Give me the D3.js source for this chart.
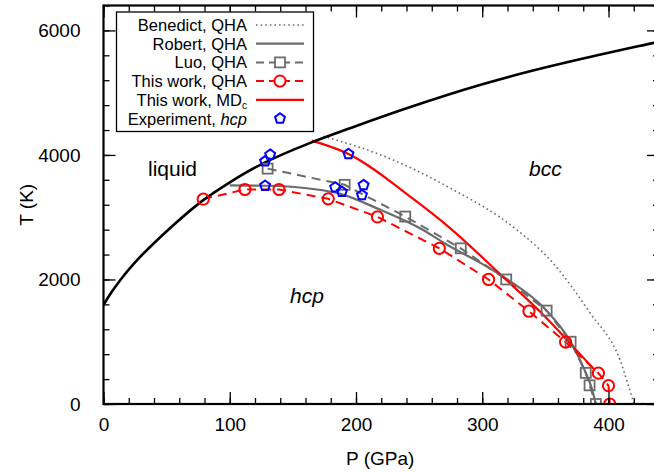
<!DOCTYPE html>
<html><head><meta charset="utf-8">
<script src="https://cdn.jsdelivr.net/npm/d3@7/dist/d3.min.js"></script>
<style>
body{margin:0;background:#fff;}
text{font-family:"Liberation Sans",Arial,Helvetica,sans-serif;fill:#000;}
</style></head>
<body><svg id="c" width="654" height="472"></svg>
<script>
// ---- data (P in GPa, T in K) ----
const meltP = [0, 5, 13, 24, 35.5, 55, 78.6, 100, 124, 165, 190, 235, 300, 361.6, 436, 440];
const meltT = [1590, 1760, 1990, 2260, 2500, 2870, 3285, 3560, 3860, 4210, 4390, 4720, 5150, 5469, 5802, 5815];

const benedictP = [174, 219, 274.5, 327.3, 353.7, 385.3, 409.1, 419.4, 420.5];
const benedictT = [4300, 4005, 3469, 2799, 2316, 1464, 708, 64, 0];

const robertP = [100, 130, 166, 187, 218, 250, 274.5, 300, 320, 350, 370, 382, 386, 390];
const robertT = [3510, 3505, 3453, 3378, 3130, 2830, 2530, 2250, 2000, 1520, 1000, 500, 300, 0];

const luoP = [130, 191, 239, 283, 319, 351, 370, 382, 385, 390];
const luoT = [3780, 3520, 3010, 2500, 2000, 1500, 1000, 500, 300, 0];

const qhaP = [79, 112, 139, 178, 217, 266, 305, 337, 366, 392, 400, 401];
const qhaT = [3290, 3445, 3445, 3295, 3005, 2500, 2000, 1490, 995, 495, 295, 0];

const mdP = [165, 194, 245.6, 274.5, 314.4, 351, 364.5, 389];
const mdT = [4230, 4016, 3290, 2826, 2080, 1378, 1086, 548];

const expP = [132, 128, 128, 183.5, 188.8, 206, 204.7, 194];
const expT = [4005, 3898, 3505, 3479, 3408, 3516, 3355, 4016];

const xTicks = [0, 100, 200, 300, 400];
const yTicks = [0, 2000, 4000, 6000];
const legendLabels = ["Benedict, QHA", "Robert, QHA", "Luo, QHA", "This work, QHA", "This work, MD", "Experiment, "];

// ---- layout ----
const svg = d3.select("#c");
const L = 103.5, R = 659, T = 5.5, B = 404;
const x = d3.scaleLinear().domain([0, 440]).range([L, R]);
const y = d3.scaleLinear().domain([0, 6400]).range([B, T]);

const zip = (a, b) => a.map((v, i) => [v, b[i]]);
const line = d3.line().x(d => x(d[0])).y(d => y(d[1]));
const smooth = d3.line().x(d => x(d[0])).y(d => y(d[1])).curve(d3.curveMonotoneX);

svg.append("clipPath").attr("id", "pc").append("rect")
  .attr("x", L).attr("y", T).attr("width", R - L).attr("height", B - T);
const g = svg.append("g").attr("clip-path", "url(#pc)");

const GRAY = "#6b6b6b", RED = "#ff0000", BLUE = "#0000ff";

// axes ticks (inward, mirrored)
const xMinor = d3.range(0, 441, 20), yMinor = d3.range(0, 6401, 400);
const ax = svg.append("g");
ax.append("g").attr("transform", `translate(0,${B})`)
  .call(d3.axisBottom(x).tickValues(xMinor).tickSize(-6).tickFormat(""));
ax.append("g").attr("transform", `translate(0,${B})`)
  .call(d3.axisBottom(x).tickValues(xTicks).tickSize(-12).tickPadding(14).tickFormat(d3.format("d")));
ax.append("g").attr("transform", `translate(0,${T})`)
  .call(d3.axisTop(x).tickValues(xMinor).tickSize(-6).tickFormat(""));
ax.append("g").attr("transform", `translate(0,${T})`)
  .call(d3.axisTop(x).tickValues(xTicks).tickSize(-12).tickFormat(""));
ax.append("g").attr("transform", `translate(${L},0)`)
  .call(d3.axisLeft(y).tickValues(yMinor).tickSize(-6).tickFormat(""));
ax.append("g").attr("transform", `translate(${L},0)`)
  .call(d3.axisLeft(y).tickValues(yTicks).tickSize(-12).tickPadding(23).tickFormat(d3.format("d")));
ax.append("g").attr("transform", `translate(${R},0)`)
  .call(d3.axisRight(y).tickValues(yMinor).tickSize(-6).tickFormat(""));
ax.append("g").attr("transform", `translate(${R},0)`)
  .call(d3.axisRight(y).tickValues(yTicks).tickSize(-12).tickFormat(""));
ax.selectAll(".domain").remove();
ax.selectAll(".tick line").attr("stroke", "#000").attr("stroke-width", 1.3);
ax.selectAll(".tick text").attr("font-size", 19).attr("font-family", "Liberation Sans, Arial, sans-serif");

svg.append("rect").attr("x", L).attr("y", T).attr("width", R - L).attr("height", B - T)
  .attr("fill", "none").attr("stroke", "#000").attr("stroke-width", 2.2);

// curves
g.append("path").datum(zip(benedictP, benedictT)).attr("d", smooth)
  .attr("fill", "none").attr("stroke", GRAY).attr("stroke-width", 1.6).attr("stroke-dasharray", "1.6,3");
g.append("path").datum(zip(robertP, robertT)).attr("d", smooth)
  .attr("fill", "none").attr("stroke", GRAY).attr("stroke-width", 2.2);
g.append("path").datum(zip(luoP, luoT)).attr("d", line)
  .attr("fill", "none").attr("stroke", GRAY).attr("stroke-width", 2).attr("stroke-dasharray", "9,6");
g.append("path").datum(zip(qhaP, qhaT)).attr("d", line)
  .attr("fill", "none").attr("stroke", RED).attr("stroke-width", 2).attr("stroke-dasharray", "9,6");
g.append("path").datum(zip(mdP, mdT)).attr("d", smooth)
  .attr("fill", "none").attr("stroke", RED).attr("stroke-width", 2.2);
g.append("path").datum(zip(meltP, meltT)).attr("d", d3.line().x(d => x(d[0])).y(d => y(d[1])).curve(d3.curveBasis))
  .attr("fill", "none").attr("stroke", "#000").attr("stroke-width", 2.6);

// markers
function pentagon(r) {
  const pts = d3.range(5).map(i => {
    const a = -Math.PI / 2 + i * 2 * Math.PI / 5;
    return [r * Math.cos(a), r * Math.sin(a)];
  });
  return "M" + pts.map(p => p.join(",")).join("L") + "Z";
}
const sq = 5;
g.selectAll(".sq").data(zip(luoP, luoT)).enter().append("rect")
  .attr("x", d => x(d[0]) - sq).attr("y", d => y(d[1]) - sq).attr("width", 2 * sq).attr("height", 2 * sq)
  .attr("fill", "none").attr("stroke", GRAY).attr("stroke-width", 1.8);
g.selectAll(".ci").data(zip(qhaP, qhaT)).enter().append("circle")
  .attr("cx", d => x(d[0])).attr("cy", d => y(d[1])).attr("r", 5.6)
  .attr("fill", "none").attr("stroke", RED).attr("stroke-width", 2);
g.selectAll(".pe").data(zip(expP, expT)).enter().append("path")
  .attr("d", pentagon(5.2)).attr("transform", d => `translate(${x(d[0])},${y(d[1])})`)
  .attr("fill", "none").attr("stroke", BLUE).attr("stroke-width", 2);

// region labels
svg.append("text").attr("x", 148).attr("y", 176).attr("font-size", 21).text("liquid");
svg.append("text").attr("x", 529).attr("y", 176).attr("font-size", 21).attr("font-style", "italic").text("bcc");
svg.append("text").attr("x", 290).attr("y", 303).attr("font-size", 21).attr("font-style", "italic").text("hcp");

// axis labels
svg.append("text").attr("x", (L + R) / 2 - 1).attr("y", 465).attr("text-anchor", "middle").attr("font-size", 19).text("P (GPa)");
svg.append("text").attr("transform", `translate(33,${(T + B) / 2}) rotate(-90)`).attr("text-anchor", "middle").attr("font-size", 19).text("T (K)");

// legend
const lg = svg.append("g");
lg.append("rect").attr("x", 116.5).attr("y", 12).attr("width", 197).attr("height", 119.5)
  .attr("fill", "#fff").attr("stroke", "#000").attr("stroke-width", 1.3);
const rowY = i => 25 + i * 18.7;
const sx0 = 256, sx1 = 304, sxm = 280;
legendLabels.forEach((lab, i) => {
  const t = lg.append("text").attr("x", 247).attr("y", rowY(i) + 6).attr("text-anchor", "end").attr("font-size", 16.5);
  t.append("tspan").text(lab);
  if (i === 4) t.append("tspan").attr("font-size", 10).attr("dy", 3).text("c");
  if (i === 5) t.append("tspan").attr("font-style", "italic").text("hcp");
});
const styles = [
  {c: GRAY, w: 1.6, d: "1.6,3"}, {c: GRAY, w: 2.2, d: null}, {c: GRAY, w: 2, d: "8,5"},
  {c: RED, w: 2, d: "8,5"}, {c: RED, w: 2.2, d: null}
];
styles.forEach((s, i) => {
  lg.append("line").attr("x1", sx0).attr("x2", sx1).attr("y1", rowY(i)).attr("y2", rowY(i))
    .attr("stroke", s.c).attr("stroke-width", s.w).attr("stroke-dasharray", s.d);
});
lg.append("rect").attr("x", sxm - sq).attr("y", rowY(2) - sq).attr("width", 2 * sq).attr("height", 2 * sq)
  .attr("fill", "#fff").attr("stroke", GRAY).attr("stroke-width", 1.8);
lg.append("circle").attr("cx", sxm).attr("cy", rowY(3)).attr("r", 5.6)
  .attr("fill", "#fff").attr("stroke", RED).attr("stroke-width", 2);
lg.append("path").attr("d", pentagon(5.2)).attr("transform", `translate(${sxm},${rowY(5)})`)
  .attr("fill", "none").attr("stroke", BLUE).attr("stroke-width", 2);
</script></body></html>
